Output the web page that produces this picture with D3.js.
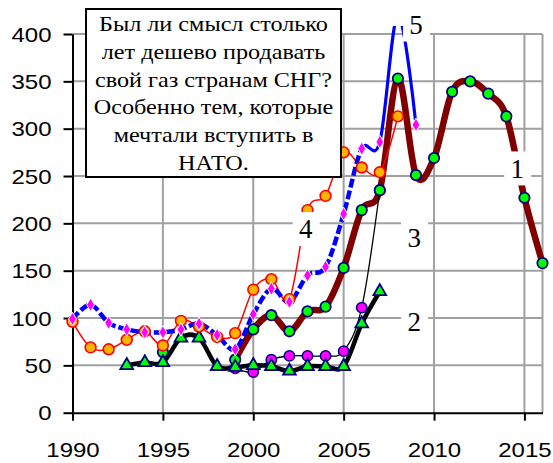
<!DOCTYPE html>
<html>
<head>
<meta charset="utf-8">
<script src="https://cdn.jsdelivr.net/npm/d3@7"></script>
<style>
  body { margin: 0; background: #fff; }
  svg { display: block; }
</style>
</head>
<body>
<main></main>
<script>
const years = d3.range(1990, 2017);
// one value per year 1990..2016, null = no point
const series1 = [null, null, null, null, null, 64, null, null, null, 56, 88, 103, 86, 107, 112, 153, 214, 235, 353, 251, 269, 339, 350, 337, 313, 227, 158];
const series2 = [null, null, null, 50, 53, 53, 79, 79, 49, 48, 50, 49, 44, 49, 49, 49, 94, 128, null, null, null, null, null, null, null, null, null];
const series3 = [null, null, null, null, null, null, null, null, null, 47, 43, 56, 60, 60, 60, 65, 111, 235, null, null, null, null, null, null, null, null, null];
const series4 = [96, 69, 67, 77, 86, 71, 97, 91, 80, 84, 130, 141, 120, 214, 229, 275, 259, 254, 313, null, null, null, null, null, null, null, null];
const series5 = [99, 114, 95, 88, 85, 85, 88, 94, 82, 67, 104, 131, 117, 145, 154, 210, 279, 286, 420, 304, null, null, null, null, null, null, null];

const yTicks = d3.range(0, 401, 50);
const xTicks = [1990, 1995, 2000, 2005, 2010, 2015];
const noteLines = ["Был ли смысл столько", "лет дешево продавать", "свой газ странам СНГ?",
                   "Особенно тем, которые", "мечтали вступить в", "НАТО."];
const seriesLabels = [
  {text: "5", year: 2009.0, value: 410},
  {text: "1", year: 2014.6, value: 258},
  {text: "3", year: 2008.9, value: 185},
  {text: "2", year: 2008.9, value: 96},
  {text: "4", year: 2002.9, value: 194}
];

const width = 553;
const height = 463;

const svg = d3.select("main")
  .append("svg")
  .attr("width", width)
  .attr("height", height);

const x = d3.scaleLinear().domain([1990, 2016]).range([72.5, 542.5]);
const y = d3.scaleLinear().domain([0, 400]).range([412.7, 34]);

// grid
const grid = svg.append("g").attr("stroke", "#a0a0a0").attr("stroke-width", 2);
grid.selectAll(".h").data(yTicks.slice(1)).enter().append("line")
  .attr("x1", x(1990)).attr("x2", x(2016))
  .attr("y1", d => y(d)).attr("y2", d => y(d));
grid.selectAll(".v").data(xTicks.slice(1).concat([2016])).enter().append("line")
  .attr("x1", d => x(d)).attr("x2", d => x(d))
  .attr("y1", y(0)).attr("y2", y(400));

// axes
const yAxis = svg.append("g")
  .attr("transform", `translate(${x(1990)},0)`)
  .call(d3.axisLeft(y).tickValues(yTicks).tickSize(9).tickSizeOuter(0).tickPadding(12));
const xAxis = svg.append("g")
  .attr("transform", `translate(0,${y(0)})`)
  .call(d3.axisBottom(x).tickValues(xTicks).tickFormat(d3.format("d")).tickSize(8).tickSizeOuter(0).tickPadding(18));

[yAxis, xAxis].forEach(a => {
  a.select(".domain").attr("stroke", "#000").attr("stroke-width", 2);
  a.selectAll(".tick line").attr("stroke", "#000").attr("stroke-width", 2);
  a.selectAll(".tick text")
    .attr("fill", "#000")
    .style("font-family", "'Liberation Sans', Arial, sans-serif")
    .style("font-size", "20px");
});
yAxis.selectAll(".tick text").attr("transform", "scale(1.2,1)").attr("x", -21 / 1.2).attr("dy", "0.36em");
xAxis.selectAll(".tick text").attr("transform", "scale(1.2,1)").attr("dy", "0.9em");

// clip for lines going above the chart
svg.append("clipPath").attr("id", "clip")
  .append("rect").attr("x", 0).attr("y", 26).attr("width", width).attr("height", height);
svg.append("clipPath").attr("id", "clipDash")
  .append("rect").attr("x", 0).attr("y", 26).attr("width", x(2006)).attr("height", height);
svg.append("clipPath").attr("id", "clipSolid")
  .append("rect").attr("x", x(2006)).attr("y", 26).attr("width", width).attr("height", height);

const toPoints = vals => years.map((yr, i) => ({year: yr, value: vals[i]}));
const makeLine = () => d3.line()
  .defined(d => d.value != null)
  .x(d => x(d.year))
  .y(d => y(d.value))
  .curve(d3.curveCatmullRom.alpha(0));

const lines = svg.append("g").attr("clip-path", "url(#clip)").attr("fill", "none");

lines.append("path").datum(toPoints(series1)).attr("d", makeLine())
  .attr("stroke", "#800000").attr("stroke-width", 6.5);
lines.append("path").datum(toPoints(series2)).attr("d", makeLine())
  .attr("stroke", "#000").attr("stroke-width", 4.5);
lines.append("path").datum(toPoints(series3)).attr("d", makeLine())
  .attr("stroke", "#000").attr("stroke-width", 1.3);
lines.append("path").datum(toPoints(series4)).attr("d", makeLine())
  .attr("stroke", "#ff0000").attr("stroke-width", 1.5);
svg.append("path").datum(toPoints(series5)).attr("d", makeLine())
  .attr("clip-path", "url(#clipDash)").attr("fill", "none")
  .attr("stroke", "#0000ff").attr("stroke-width", 4.5).attr("stroke-dasharray", "9,3");
svg.append("path").datum(toPoints(series5)).attr("d", makeLine())
  .attr("clip-path", "url(#clipSolid)").attr("fill", "none")
  .attr("stroke", "#0000ff").attr("stroke-width", 3.2);

// markers
const markers = svg.append("g").attr("clip-path", "url(#clip)");
const pts = vals => toPoints(vals).filter(d => d.value != null);

markers.selectAll(".m3").data(pts(series3)).enter().append("circle")
  .attr("cx", d => x(d.year)).attr("cy", d => y(d.value)).attr("r", 5.2)
  .attr("fill", "#ff00ff").attr("stroke", "#000080").attr("stroke-width", 1.5);
markers.selectAll(".m1").data(pts(series1)).enter().append("circle")
  .attr("cx", d => x(d.year)).attr("cy", d => y(d.value)).attr("r", 5.2)
  .attr("fill", "#00ff00").attr("stroke", "#000080").attr("stroke-width", 1.8);
markers.selectAll(".m2").data(pts(series2)).enter().append("path")
  .attr("d", d3.symbol(d3.symbolTriangle, 70))
  .attr("transform", d => `translate(${x(d.year)},${y(d.value)})`)
  .attr("fill", "#00ff00").attr("stroke", "#000080").attr("stroke-width", 1.8);
markers.selectAll(".m4").data(pts(series4)).enter().append("circle")
  .attr("cx", d => x(d.year)).attr("cy", d => y(d.value)).attr("r", 5.4)
  .attr("fill", "#ffb300").attr("stroke", "#ff0000").attr("stroke-width", 1.6);
markers.selectAll(".m5").data(pts(series5)).enter().append("path")
  .attr("d", d3.symbol(d3.symbolDiamond, 52))
  .attr("transform", d => `translate(${x(d.year)},${y(d.value)})`)
  .attr("fill", "#ff00ff").attr("stroke", "#fff").attr("stroke-width", 1);

// series labels with white backing
const lab = svg.append("g");
seriesLabels.forEach(l => {
  const cx = x(l.year), cy = y(l.value);
  lab.append("rect").attr("x", cx - 13).attr("y", cy - 17).attr("width", 27).attr("height", 34).attr("fill", "#fff");
  lab.append("text").attr("x", cx).attr("y", cy).attr("dy", "0.35em")
    .attr("text-anchor", "middle")
    .style("font-family", "'Liberation Serif', 'Times New Roman', serif")
    .style("font-size", "27px")
    .text(l.text);
});

// note box
svg.append("rect").attr("x", 86).attr("y", 9).attr("width", 255).attr("height", 168)
  .attr("fill", "#fff").attr("stroke", "#000").attr("stroke-width", 2);
svg.append("g").attr("transform", "translate(213.5,0) scale(1.1,1)")
  .selectAll("text").data(noteLines).enter().append("text")
  .attr("x", 0).attr("y", (d, i) => 31 + i * 27.8)
  .attr("text-anchor", "middle")
  .style("font-family", "'Liberation Serif', 'Times New Roman', serif")
  .style("font-size", "22px")
  .text(d => d);
</script>
</body>
</html>
